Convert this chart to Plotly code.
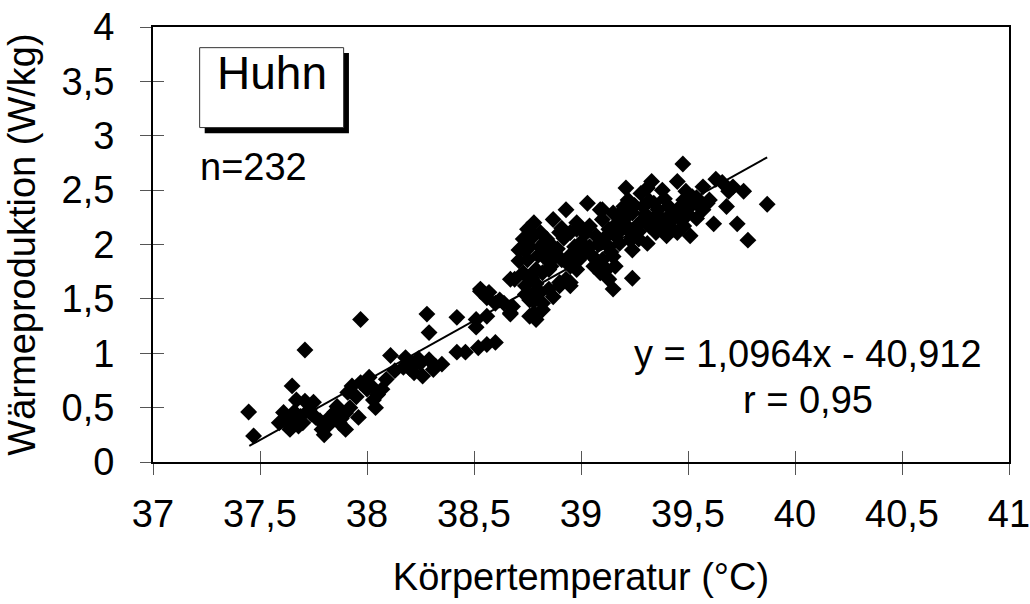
import plotly.graph_objects as go

# Körpertemperatur (°C)
temp = [
    37.447, 37.47, 37.71, 37.97, 37.65, 37.61, 37.59, 37.64, 37.68, 37.67,
    37.71, 37.75, 37.69, 37.73, 37.79, 37.80, 37.83, 37.86, 37.87, 37.90,
    37.90, 37.96, 37.91, 37.93, 37.97, 38.01, 38.00, 38.03, 38.04, 38.07,
    38.09, 38.11, 38.18, 38.17, 38.21, 38.22, 38.26, 38.25, 38.29, 38.28,
    38.29, 38.32, 38.35, 38.31, 38.42, 38.42, 38.46, 38.51, 38.52, 38.53,
    38.56, 38.56, 38.56, 37.76, 37.66,
    39.476, 39.87, 39.78, 39.73, 39.62, 39.76, 39.63, 39.66, 39.57, 39.59,
    39.68, 39.69, 39.71, 39.54, 39.49, 39.45, 39.48, 39.51, 39.54, 39.51,
    39.48, 39.45, 39.41, 39.38, 39.33, 39.31, 39.28, 39.21, 39.22, 39.24,
    39.29, 39.34, 39.35, 39.38, 39.41, 39.45, 39.40, 39.35, 39.32, 39.29,
    39.26, 39.27, 39.24, 39.31, 39.23, 39.20, 39.19, 39.18, 39.24, 39.15,
    39.13, 39.16, 39.12, 39.15, 39.10, 39.13, 39.16, 39.13, 39.10, 39.09,
    39.15, 39.20, 39.07, 39.04, 39.04, 39.07, 39.09, 39.06, 39.03, 39.10,
    39.01, 38.99, 38.98, 38.95, 38.96, 38.98, 38.93, 38.98, 38.95, 38.90,
    38.87, 38.93, 38.90, 38.95, 38.85, 38.87, 38.79, 38.77, 38.82, 38.79,
    38.85, 38.84, 38.88, 38.91, 38.87, 38.84, 38.81, 38.78, 38.75, 38.78,
    38.81, 38.84, 38.91, 38.73, 38.71, 38.74, 38.75, 38.71, 38.67, 38.74,
    38.74, 38.76, 38.78, 38.81, 38.76, 38.79, 38.78, 38.82, 38.68, 38.67,
    38.64, 38.62, 38.53, 38.51, 38.57, 39.48, 39.57, 39.60,
    38.60, 38.67, 38.69, 38.60, 38.73, 38.90, 38.95,
    39.00, 39.02, 39.05, 39.08, 39.11, 39.14, 39.17, 39.19, 39.21, 39.23,
    39.25, 39.27, 39.30, 39.32, 39.33, 39.36, 39.37, 39.39, 39.42, 39.43,
    39.46, 39.47, 39.50, 39.52, 39.55, 38.80, 38.83, 38.86, 38.89, 38.92,
    38.94, 38.97, 38.76, 38.79, 38.82, 37.62, 37.66, 37.70, 37.74, 37.78,
    37.82, 37.85, 37.88, 37.92, 37.95, 38.02, 38.05, 38.13, 38.20, 38.24,
]

# Wärmeproduktion (W/kg)
heat = [
    0.46, 0.24, 1.03, 1.31, 0.70, 0.455, 0.36, 0.30, 0.33, 0.57,
    0.56, 0.55, 0.42, 0.48, 0.30, 0.25, 0.42, 0.51, 0.36, 0.30,
    0.45, 0.41, 0.64, 0.70, 0.73, 0.78, 0.67, 0.57, 0.50, 0.67,
    0.76, 0.98, 0.96, 0.87, 0.90, 0.82, 0.79, 0.91, 0.94, 1.36,
    1.19, 0.88, 0.90, 0.85, 1.33, 1.01, 1.01, 1.24, 1.05, 1.57,
    1.51, 1.08, 1.34, 0.41, 0.36,
    2.74, 2.37, 2.04, 2.19, 2.19, 2.49, 2.60, 2.57, 2.53, 2.38,
    2.35, 2.49, 2.53, 2.43, 2.49, 2.58, 2.41, 2.35, 2.24, 2.08,
    2.17, 2.11, 2.35, 2.50, 2.58, 2.52, 2.47, 2.52, 2.41, 2.29,
    2.35, 2.38, 2.26, 2.23, 2.20, 2.26, 2.08, 2.11, 2.17, 2.23,
    2.17, 2.05, 1.95, 2.01, 2.11, 2.23, 2.14, 2.01, 1.69, 1.59,
    1.68, 1.80, 1.77, 1.89, 1.86, 1.98, 2.08, 2.14, 2.23, 2.32,
    2.29, 2.35, 2.08, 2.17, 1.98, 1.86, 1.74, 1.80, 2.38, 2.32,
    1.92, 1.86, 1.77, 1.80, 1.92, 2.14, 2.32, 2.20, 2.11, 2.11,
    2.23, 1.68, 1.62, 1.62, 1.59, 1.52, 1.56, 1.69, 1.74, 1.77,
    1.77, 1.86, 1.89, 1.86, 1.98, 1.95, 1.98, 2.08, 2.14, 2.20,
    2.11, 2.05, 2.15, 2.05, 1.95, 1.94, 1.86, 1.85, 1.68, 1.62,
    1.54, 1.49, 1.48, 1.56, 1.34, 1.31, 1.37, 1.46, 1.43, 1.37,
    1.46, 1.49, 1.59, 1.31, 1.56, 2.29, 2.32, 2.41,
    1.46, 1.36, 1.68, 1.10, 1.74, 1.65, 1.65,
    2.02, 2.10, 1.90, 2.00, 2.06, 1.93, 2.20, 2.30, 2.18, 2.04,
    2.36, 2.12, 2.28, 2.40, 2.22, 2.32, 2.16, 2.42, 2.28, 2.14,
    2.34, 2.22, 2.28, 2.44, 2.36, 1.90, 2.02, 1.80, 1.96, 2.06,
    1.88, 1.98, 1.98, 1.64, 1.40, 0.40, 0.46, 0.36, 0.44, 0.38,
    0.34, 0.46, 0.40, 0.50, 0.60, 0.70, 0.62, 0.84, 0.86, 0.95,
]

# Regression (as printed in the chart)
slope = 1.0964
intercept = -40.912
fit_x = [37.45, 39.87]
fit_y = [slope * v + intercept for v in fit_x]

x_ticks = [37, 37.5, 38, 38.5, 39, 39.5, 40, 40.5, 41]
x_ticklabels = ["37", "37,5", "38", "38,5", "39", "39,5", "40", "40,5", "41"]
y_ticks = [0, 0.5, 1, 1.5, 2, 2.5, 3, 3.5, 4]
y_ticklabels = ["0", "0,5", "1", "1,5", "2", "2,5", "3", "3,5", "4"]

FONT = "Arial, Liberation Sans, sans-serif"
FS = 38

fig = go.Figure()
fig.add_trace(go.Scatter(
    x=temp, y=heat, mode="markers",
    marker=dict(symbol="diamond", size=13, color="black", line=dict(width=0)),
    showlegend=False, hoverinfo="x+y",
))
fig.add_trace(go.Scatter(
    x=fit_x, y=fit_y, mode="lines",
    line=dict(color="black", width=2), showlegend=False, hoverinfo="skip",
))
# helper trace so the overlay (inner tick) axes are drawn
fig.add_trace(go.Scatter(x=[], y=[], xaxis="x2", yaxis="y2", showlegend=False))

fig.update_layout(
    width=1030, height=604,
    margin=dict(l=153, r=21, t=27, b=142, autoexpand=False),
    paper_bgcolor="white", plot_bgcolor="white",
    font=dict(family=FONT, color="black"),
    xaxis=dict(
        range=[37, 41], tickvals=x_ticks, ticktext=x_ticklabels,
        showgrid=False, zeroline=False, automargin=False,
        showline=True, linecolor="black", linewidth=2, mirror=True,
        ticks="outside", ticklen=11, tickwidth=1, tickcolor="#555",
        tickfont=dict(size=FS, family=FONT, color="black"),
        ticklabelstandoff=6, ticklabeloverflow="allow",
        title=dict(text="Körpertemperatur (°C)", font=dict(size=FS, family=FONT), standoff=30),
    ),
    yaxis=dict(
        range=[0, 4], tickvals=y_ticks, ticktext=y_ticklabels,
        showgrid=False, zeroline=False, automargin=False,
        showline=True, linecolor="black", linewidth=2, mirror=True,
        ticks="outside", ticklen=11, tickwidth=1, tickcolor="#555",
        tickfont=dict(size=FS, family=FONT, color="black"),
        ticklabelstandoff=18,
        title=dict(text="Wärmeproduktion (W/kg)", font=dict(size=FS, family=FONT), standoff=14),
    ),
    xaxis2=dict(
        range=[37, 41], tickvals=x_ticks, overlaying="x", anchor="y", side="bottom",
        showgrid=False, zeroline=False, showline=False, showticklabels=False,
        ticks="inside", ticklen=11, tickwidth=1, tickcolor="#555", automargin=False,
    ),
    yaxis2=dict(
        range=[0, 4], tickvals=y_ticks, overlaying="y", anchor="x", side="left",
        showgrid=False, zeroline=False, showline=False, showticklabels=False,
        ticks="inside", ticklen=11, tickwidth=1, tickcolor="#555", automargin=False,
    ),
    shapes=[
        dict(type="rect", xref="paper", yref="paper",
             x0=0.0604, x1=0.2289, y0=0.7559, y1=0.9403,
             fillcolor="black", line=dict(width=0), layer="above"),
        dict(type="rect", xref="paper", yref="paper",
             x0=0.0545, x1=0.2227, y0=0.7688, y1=0.9525,
             fillcolor="white", line=dict(color="#333", width=1), layer="above"),
    ],
    annotations=[
        dict(text="Huhn", x=37.555, y=3.58, xref="x", yref="y", showarrow=False,
             font=dict(size=46, family=FONT, color="black"), xanchor="center", yanchor="middle"),
        dict(text="n=232", x=37.47, y=2.716, xref="x", yref="y", showarrow=False,
             font=dict(size=FS, family=FONT, color="black"), xanchor="center", yanchor="middle"),
        dict(text="y = 1,0964x - 40,912", x=40.063, y=0.99, xref="x", yref="y", showarrow=False,
             font=dict(size=FS, family=FONT, color="black"), xanchor="center", yanchor="middle"),
        dict(text="r = 0,95", x=40.063, y=0.57, xref="x", yref="y", showarrow=False,
             font=dict(size=FS, family=FONT, color="black"), xanchor="center", yanchor="middle"),
    ],
)

fig.write_html("out.html")
